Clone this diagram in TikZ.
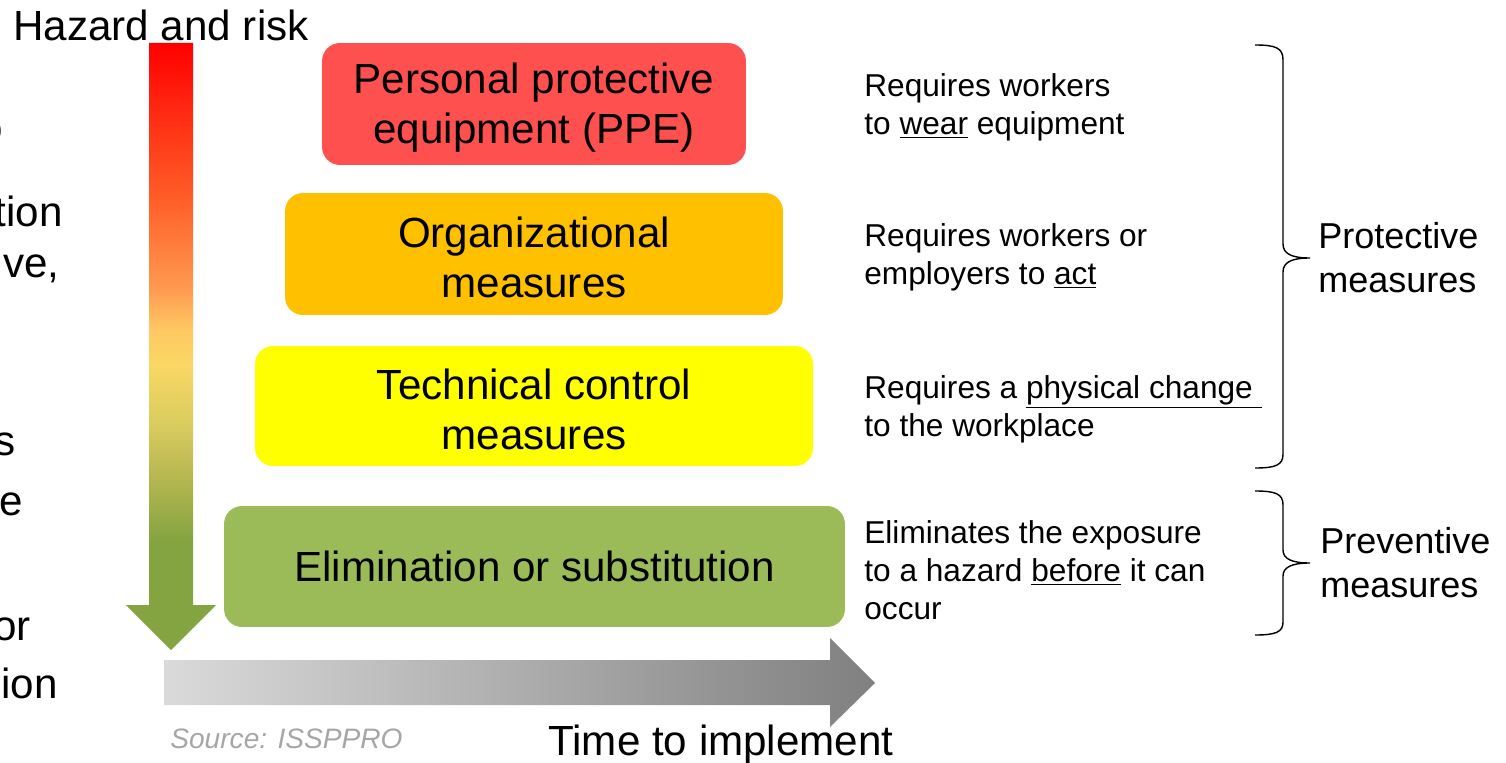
\documentclass[tikz,border=0pt]{standalone}
\usepackage{fontspec}
\setmainfont{Liberation Sans}
\usetikzlibrary{positioning}
\definecolor{ppered}{RGB}{255,80,80}
\definecolor{orgamber}{RGB}{255,192,0}
\definecolor{techyellow}{RGB}{255,255,0}
\definecolor{elimgreen}{RGB}{155,187,89}
\definecolor{riskred}{RGB}{255,0,0}
\definecolor{riskorange}{RGB}{255,95,40}
\definecolor{risklight}{RGB}{255,155,80}
\definecolor{riskpale}{RGB}{255,200,100}
\definecolor{riskyellow}{RGB}{250,215,100}
\definecolor{riskolive}{RGB}{220,205,95}
\definecolor{riskkhaki}{RGB}{180,182,80}
\definecolor{riskgreen}{RGB}{132,164,66}
\definecolor{sourcegray}{RGB}{166,166,166}
\definecolor{timelight}{RGB}{218,218,218}
\definecolor{timedark}{RGB}{128,128,128}
\pgfdeclareverticalshading{riskshade}{100bp}{color(0bp)=(riskgreen); color(34bp)=(riskgreen);
  color(39bp)=(riskkhaki); color(44bp)=(riskolive); color(48.5bp)=(riskyellow);
  color(51.4bp)=(riskpale); color(54.7bp)=(risklight); color(62bp)=(riskorange);
  color(75bp)=(riskred); color(100bp)=(riskred)}
\tikzset{
  tier/.style={rounded corners=0.36cm, inner sep=0pt, align=center,
    font=\fontsize{24}{28.4}\selectfont},
  desc/.style={anchor=west, inner sep=0pt, align=left, yshift=-0.07cm,
    font=\fontsize{18}{21.8}\selectfont},
  group/.style={anchor=west, inner sep=0pt, align=left,
    font=\fontsize{20.5}{25}\selectfont},
  cut/.style={anchor=base east, inner sep=0pt, font=\fontsize{24}{28.4}\selectfont},
  brace line/.style={line width=0.8pt, black}
}
\begin{document}
\begin{tikzpicture}[x=0.02cm,y=-0.02cm]
  \useasboundingbox (0,0) rectangle (1506,763);
  % cut-off text on the left
  \node[cut] (cut1) at (3,143){o};
  \node[cut] (cut2) at (63,227){tion};
  \node[cut] (cut3) at (60,277){ve,};
  \node[cut] (cut4) at (16,455){s};
  \node[cut] (cut5) at (23,515){e};
  \node[cut] (cut6) at (31,640){or};
  \node[cut] (cut7) at (58,698){ion};
  % hazard axis
  \node[anchor=base west,inner sep=0pt,font=\fontsize{24}{28.4}\selectfont] (hazard) at (13,41){Hazard and risk};
  \shade[shading=riskshade] (149,43) -- (193,43) -- (193,605) -- (216,605) -- (171,650)
    -- (126,605) -- (149,605) -- cycle;
  % time axis
  \shade[left color=timelight,right color=timedark] (164,660) -- (830,660) -- (830,638)
    -- (875,683) -- (830,727) -- (830,705) -- (164,705) -- cycle;
  \node[anchor=base west,inner sep=0pt,font=\fontsize{24}{28.4}\selectfont] (time) at (548,755){Time to implement};
  \node[anchor=base west,inner sep=0pt,text=sourcegray,font=\fontsize{16}{19}\selectfont\itshape] (source) at (170,748){Source: ISSPPRO};
  % hierarchy levels
  \node[tier,fill=ppered,minimum width=8.48cm,minimum height=2.44cm] (ppe) at (534,104){\rule{0pt}{21pt}Personal protective\\equipment (PPE)};
  \node[tier,fill=orgamber,minimum width=9.96cm,minimum height=2.44cm] (org) at (534,254){\rule{0pt}{21pt}Organizational\\measures};
  \node[tier,fill=techyellow,minimum width=11.16cm,minimum height=2.4cm] (tech) at (534,406){\rule{0pt}{21pt}Technical control\\measures};
  \node[tier,fill=elimgreen,minimum width=12.42cm,minimum height=2.42cm] (elim) at (534.5,566.5){Elimination or substitution};
  % descriptions
  \coordinate (desccol) at (864,0);
  \node[desc] (ppedesc) at (ppe -| desccol){Requires workers\\to \underline{wear} equipment};
  \node[desc] (orgdesc) at (org -| desccol){Requires workers or\\employers to \underline{act}};
  \node[desc] (techdesc) at (tech -| desccol){Requires a \underline{physical change\ }\\to the workplace};
  \node[desc] (elimdesc) at (elim -| desccol){Eliminates the exposure\\to a hazard \underline{before} it can\\occur};
  % braces
  \coordinate (protip) at (1310,258);
  \coordinate (pretip) at (1310,563);
  \draw[brace line] (1255,45) .. controls (1276,45) and (1283,48) .. (1283,60) -- (1283,244)
    .. controls (1283,254) and (1292,258) .. (protip)
    .. controls (1292,258) and (1283,262) .. (1283,272) -- (1283,454)
    .. controls (1283,465) and (1276,468) .. (1255,468);
  \draw[brace line] (1255,491) .. controls (1276,491) and (1283,494) .. (1283,505) -- (1283,550)
    .. controls (1283,559) and (1292,563) .. (pretip)
    .. controls (1292,563) and (1283,567) .. (1283,576) -- (1283,622)
    .. controls (1283,632) and (1276,635) .. (1255,635);
  \node[group,right=0.16cm of protip] (protect) {Protective\\measures};
  \node[group,right=0.2cm of pretip] (prevent) {Preventive\\measures};
\end{tikzpicture}
\end{document}
